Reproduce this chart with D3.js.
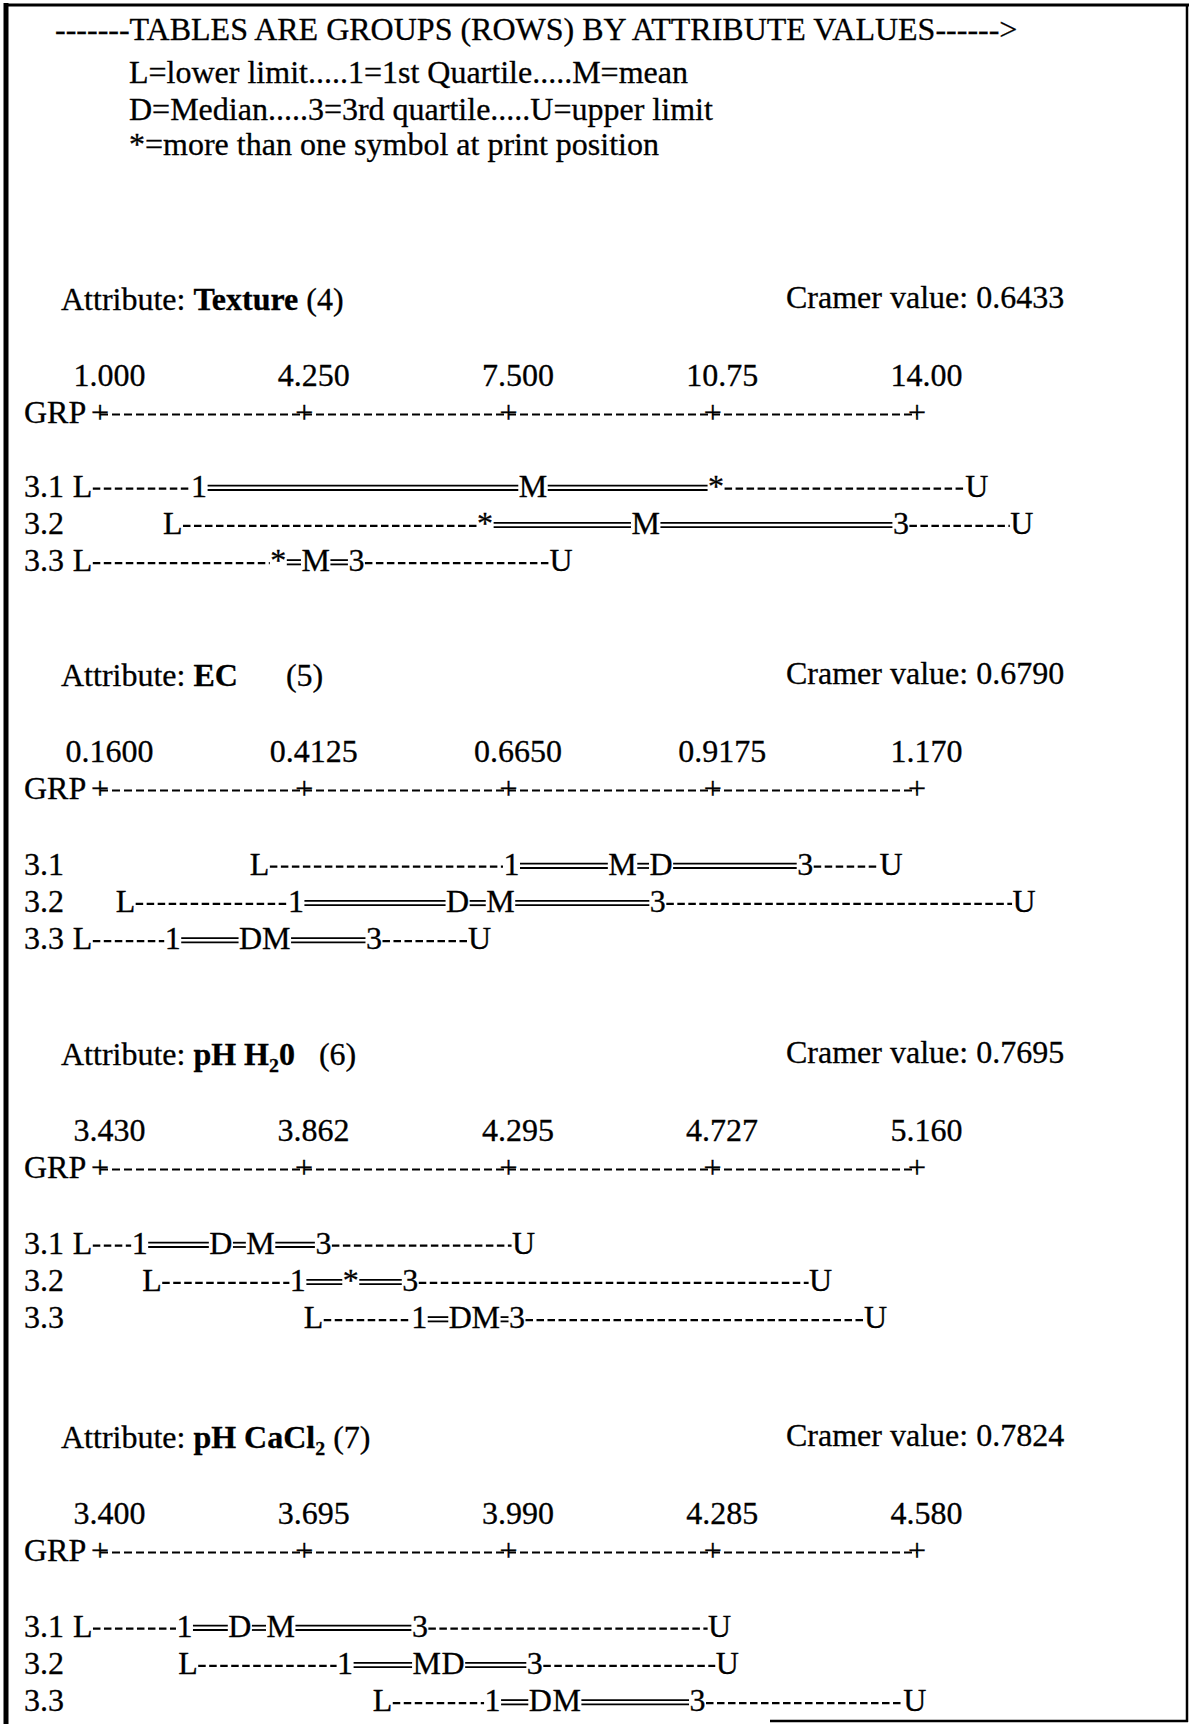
<!DOCTYPE html>
<html><head><meta charset="utf-8">
<script src="https://cdn.jsdelivr.net/npm/d3@7"></script>
<style>
html,body{margin:0;padding:0;background:#fff;}
svg text{font-family:"Liberation Serif","Times New Roman",serif;fill:#000;stroke:#000;stroke-width:0.3px;}
</style></head><body>
<svg id="chart" width="1190" height="1724"></svg>
<script>
// ---------------- data ----------------
const headerLines = [
  "-------TABLES ARE GROUPS (ROWS) BY ATTRIBUTE VALUES------>",
  "L=lower limit.....1=1st Quartile.....M=mean",
  "D=Median.....3=3rd quartile.....U=upper limit",
  "*=more than one symbol at print position"
];
// name parts: odd indices are subscripts
const attrNameParts = [["Texture"], ["EC"], ["pH H", "2", "0"], ["pH CaCl", "2"]];
const attrGaps = [" ", "      ", "   ", " "];
const attrCodes = ["(4)", "(5)", "(6)", "(7)"];
const cramerValues = ["0.6433", "0.6790", "0.7695", "0.7824"];
const tickValues = [
  [1.000, 4.250, 7.500, 10.75, 14.00],
  [0.1600, 0.4125, 0.6650, 0.9175, 1.170],
  [3.430, 3.862, 4.295, 4.727, 5.160],
  [3.400, 3.695, 3.990, 4.285, 4.580]
];
const tickLabels = [
  ["1.000", "4.250", "7.500", "10.75", "14.00"],
  ["0.1600", "0.4125", "0.6650", "0.9175", "1.170"],
  ["3.430", "3.862", "4.295", "4.727", "5.160"],
  ["3.400", "3.695", "3.990", "4.285", "4.580"]
];
const groups = ["3.1", "3.2", "3.3"];

const textureSymbols = ["L1M*U", "L*M3U", "L*M3U"];
const textureValues = [
  [0.722, 2.577, 7.890, 10.803, 14.952],
  [2.157, 7.128, 9.683, 13.744, 15.669],
  [0.722, 3.837, 4.432, 5.080, 8.335]
];
const ecSymbols = ["L1MD3U", "L1DM3U", "L1DM3U"];
const ecValues = [
  [0.3573, 0.6687, 0.8060, 0.8536, 1.0318, 1.1378],
  [0.1914, 0.4022, 0.6021, 0.6551, 0.8496, 1.3024],
  [0.1384, 0.2499, 0.3462, 0.3780, 0.4987, 0.6293]
];
const phH2oSymbols = ["L1DM3U", "L1*3U", "L1DM3U"];
const phH2oValues = [
  [3.393, 3.514, 3.686, 3.770, 3.903, 4.327],
  [3.540, 3.849, 3.961, 4.087, 4.956],
  [3.882, 4.106, 4.193, 4.247, 4.313, 5.072]
];
const phCaCl2Symbols = ["L1DM3U", "L1MD3U", "L1DM3U"];
const phCaCl2Values = [
  [3.375, 3.522, 3.602, 3.661, 3.862, 4.295],
  [3.527, 3.754, 3.872, 3.910, 4.028, 4.306],
  [3.808, 3.967, 4.036, 4.074, 4.263, 4.577]
];
const rowSymbols = [textureSymbols, ecSymbols, phH2oSymbols, phCaCl2Symbols];
const rowValues = [textureValues, ecValues, phH2oValues, phCaCl2Values];

// ---------------- layout ----------------
const W = 1190, H = 1724, FS = 32;
const svg = d3.select("#chart");
svg.append("rect").attr("width", W).attr("height", H).attr("fill", "#fff");

const border = svg.append("g").attr("stroke", "#000");
border.append("line").attr("x1", 6).attr("x2", 6).attr("y1", 3).attr("y2", H).attr("stroke-width", 5);
border.append("line").attr("x1", 4).attr("x2", 1189).attr("y1", 5).attr("y2", 5).attr("stroke-width", 3);
border.append("line").attr("x1", 1187).attr("x2", 1187).attr("y1", 4).attr("y2", 1722).attr("stroke-width", 2.5);
border.append("line").attr("x1", 770).attr("x2", 1188).attr("y1", 1721).attr("y2", 1721).attr("stroke-width", 2.5);

const headerX = [55, 129, 129, 129], headerY = [40, 83, 120, 155];
svg.selectAll("text.header").data(headerLines).join("text")
  .attr("class", "header")
  .attr("x", (d, i) => headerX[i]).attr("y", (d, i) => headerY[i])
  .attr("font-size", FS).text(d => d);

const blockY = [310, 686, 1065, 1448];
const rowStart = [187, 189, 189, 189];
const xRange = [100, 917];

blockY.forEach((y0, b) => {
  const g = svg.append("g");
  const ticks = tickValues[b];
  const x = d3.scaleLinear().domain([ticks[0], ticks[ticks.length - 1]]).range(xRange);

  // title
  const t = g.append("text").attr("x", 61).attr("y", y0).attr("font-size", FS)
    .attr("xml:space", "preserve").style("white-space", "pre");
  t.append("tspan").text("Attribute: ");
  let shift = 0;
  attrNameParts[b].forEach((p, k) => {
    const want = (k % 2 === 1) ? 7 : 0;
    const s = t.append("tspan").attr("font-weight", "bold").text(p).attr("dy", want - shift);
    if (k % 2 === 1) s.attr("font-size", FS * 0.62);
    shift = want;
  });
  t.append("tspan").attr("dy", -shift).text(attrGaps[b] + attrCodes[b]);

  // Cramer value
  g.append("text").attr("x", 786).attr("y", y0 - 2).attr("font-size", FS)
    .text("Cramer value: " + cramerValues[b]);

  // tick labels via d3 axis
  const axis = d3.axisTop(x).tickValues(ticks)
    .tickFormat((d, i) => tickLabels[b][i]).tickSize(0).tickPadding(0);
  const ag = g.append("g").attr("transform", `translate(0,${y0 + 76})`).call(axis);
  ag.select(".domain").remove();
  ag.selectAll("text").attr("font-size", FS).attr("y", 0).attr("dy", 0).attr("dx", 9);

  // GRP print axis
  const gy = y0 + 113;
  g.append("text").attr("x", 24).attr("y", gy).attr("font-size", FS).text("GRP");
  g.append("line")
    .attr("x1", x(ticks[0])).attr("x2", x(ticks[ticks.length - 1]))
    .attr("y1", gy - 8.5).attr("y2", gy - 8.5)
    .attr("stroke", "#000").attr("stroke-width", 2).attr("stroke-dasharray", "8,4");
  g.selectAll("text.plus").data(ticks).join("text").attr("class", "plus")
    .attr("x", d => x(d)).attr("y", gy).attr("text-anchor", "middle")
    .attr("font-size", FS).text("+");

  // group rows
  rowSymbols[b].forEach((syms, i) => {
    const ry = y0 + rowStart[b] + i * 37.2;
    g.append("text").attr("x", 24).attr("y", ry).attr("font-size", FS).text(groups[i]);
    const items = syms.split("").map((s, k) => ({ s, v: rowValues[b][i][k] }));
    const texts = g.selectAll(null).data(items).join("text")
      .attr("x", d => x(d.v)).attr("y", ry).attr("text-anchor", "middle")
      .attr("font-size", FS).text(d => d.s);
    const widths = texts.nodes().map(n => n.getComputedTextLength());
    const n = items.length;
    for (let k = 0; k < n - 1; k++) {
      const left = x(items[k].v) + widths[k] / 2 + 0.5;
      const right = x(items[k + 1].v) - widths[k + 1] / 2 - 0.5;
      if (right - left < 6) continue;
      if (k === 0 || k === n - 2) {
        g.append("line").attr("x1", left).attr("x2", right)
          .attr("y1", ry - 8.3).attr("y2", ry - 8.3)
          .attr("stroke", "#000").attr("stroke-width", 2.2).attr("stroke-dasharray", "7.5,3.5");
      } else {
        [ry - 11.3, ry - 7].forEach(yy => {
          g.append("line").attr("x1", left).attr("x2", right)
            .attr("y1", yy).attr("y2", yy)
            .attr("stroke", "#000").attr("stroke-width", 1.8);
        });
      }
    }
  });
});
</script>
</body></html>
